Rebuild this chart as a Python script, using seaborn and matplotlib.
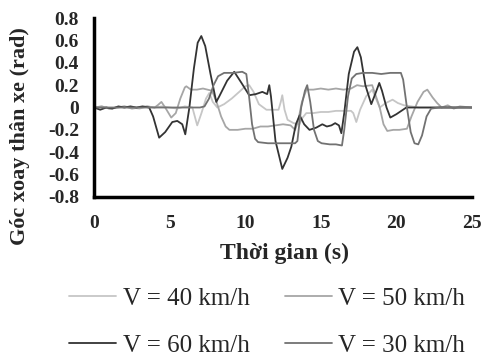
import numpy as np
import pandas as pd
import seaborn as sns
import matplotlib.pyplot as plt

# Góc xoay thân xe theo thời gian, đọc từ đồ thị
t40 = [0, 0.5, 1.0, 1.5, 2.0, 2.5, 3.0, 3.5, 4.0, 4.5, 5.0, 5.5, 6.0, 6.5, 6.82, 7.1, 7.4, 7.62, 7.85,
       8.15, 8.6, 9.1, 9.6, 10.0, 10.26, 10.55, 10.9, 11.4, 11.8, 12.2, 12.35, 12.45, 12.6, 12.8, 13.2,
       13.58, 13.8, 14.04, 14.5, 15.0, 15.5, 16.0, 16.5, 17.0, 17.15, 17.35, 17.6, 18.0, 18.4, 18.65,
       18.9, 19.3, 19.75, 20.1, 20.5, 21.0, 21.5, 22.5, 23.5, 25]
v40 = [0, 0.01, -0.01, 0.0, 0.01, 0.0, -0.01, 0.01, 0.0, 0.01, 0.0, -0.01, 0.01, 0.0, -0.16, -0.05,
       0.08, 0.13, 0.05, 0.0, 0.03, 0.08, 0.14, 0.19, 0.2, 0.14, 0.03, -0.02, -0.02, -0.02, 0.05, 0.11,
       -0.02, -0.11, -0.14, -0.15, -0.09, -0.05, -0.05, -0.04, -0.04, -0.03, -0.03, -0.03, -0.05, -0.13,
       -0.02, 0.1, 0.16, 0.08, 0.0, 0.04, 0.07, 0.04, 0.02, 0.01, 0.0, 0.0, 0.0, 0.0]

t50 = [0, 0.5, 1.0, 1.5, 2.0, 2.5, 3.0, 3.5, 4.0, 4.2, 4.45, 4.7, 5.1, 5.4, 5.7, 6.0, 6.1, 6.4, 6.8,
       7.2, 7.8, 8.1, 8.4, 8.7, 8.95, 9.5, 10.0, 10.5, 11.0, 11.5, 12.0, 12.5, 13.0, 13.3, 13.5, 13.75,
       14.05, 14.5, 15.0, 15.5, 16.0, 16.5, 17.0, 17.4, 17.8, 18.4, 18.65, 18.9, 19.15, 19.4, 19.8, 20.2,
       20.7, 21.0, 21.4, 21.8, 22.05, 22.4, 22.7, 23.0, 23.4, 23.8, 24.2, 25]
v50 = [0, 0.01, -0.01, 0.0, 0.01, -0.01, 0.0, 0.01, 0.0, 0.02, 0.05, 0.0, -0.09, -0.05, 0.08, 0.18,
       0.19, 0.16, 0.16, 0.17, 0.15, 0.05, -0.08, -0.17, -0.2, -0.2, -0.19, -0.19, -0.17, -0.17, -0.16,
       -0.15, -0.16, -0.2, -0.12, 0.05, 0.16, 0.16, 0.17, 0.16, 0.17, 0.16, 0.17, 0.2, 0.19, 0.2, 0.1,
       0.0, -0.15, -0.21, -0.2, -0.2, -0.19, -0.08, 0.05, 0.14, 0.16, 0.09, 0.04, 0.0, 0.02, -0.01,
       0.01, 0.0]

t60 = [0, 0.4, 0.8, 1.2, 1.6, 2.0, 2.4, 2.8, 3.2, 3.64, 3.9, 4.3, 4.7, 5.17, 5.5, 5.83, 6.03, 6.3,
       6.6, 6.85, 7.09, 7.35, 7.7, 8.08, 8.28, 8.8, 9.27, 9.75, 10.26, 10.7, 11.13, 11.45, 11.59, 11.7,
       12.0, 12.45, 12.8, 13.05, 13.35, 13.6, 13.9, 14.25, 14.7, 15.1, 15.4, 15.7, 15.95, 16.2, 16.36,
       16.55, 16.85, 17.2, 17.42, 17.65, 17.95, 18.34, 18.6, 18.87, 19.05, 19.35, 19.6, 20.0, 20.66,
       21.5, 23.0, 25]
v60 = [0, -0.02, 0.0, -0.01, 0.01, 0.0, 0.01, 0.0, 0.01, 0.0, -0.08, -0.27, -0.22, -0.13, -0.12,
       -0.15, -0.24, 0.0, 0.35, 0.58, 0.64, 0.55, 0.3, 0.05, 0.1, 0.24, 0.32, 0.22, 0.11, 0.12, 0.14,
       0.12, 0.2, 0.1, -0.3, -0.55, -0.45, -0.35, -0.15, -0.07, -0.15, -0.2, -0.18, -0.15, -0.17,
       -0.16, -0.14, -0.16, -0.23, -0.05, 0.3, 0.5, 0.54, 0.45, 0.2, 0.03, 0.12, 0.22, 0.15, 0.0,
       -0.09, -0.06, 0.0, 0.0, 0.0, 0.0]

t30 = [0, 1, 2, 3, 4, 5, 6, 7.0, 7.3, 7.6, 7.9, 8.2, 8.6, 9.2, 9.8, 10.07, 10.25, 10.45, 10.65, 10.85,
       11.5, 12.2, 12.9, 13.3, 13.45, 13.7, 13.95, 14.1, 14.3, 14.55, 14.8, 15.05, 15.6, 16.0, 16.4,
       16.55, 16.8, 17.05, 17.35, 17.8, 18.4, 19.0, 19.6, 20.3, 20.45, 20.7, 20.95, 21.2, 21.45, 21.7,
       22.0, 22.3, 22.8, 25]
v30 = [0, 0, 0, 0, 0, 0, 0, 0.0, 0.01, 0.08, 0.2, 0.28, 0.31, 0.31, 0.32, 0.3, 0.1, -0.15, -0.28,
       -0.31, -0.32, -0.32, -0.32, -0.32, -0.3, 0.0, 0.15, 0.2, 0.05, -0.2, -0.3, -0.32, -0.33, -0.33,
       -0.34, -0.2, 0.1, 0.26, 0.3, 0.31, 0.31, 0.3, 0.31, 0.31, 0.25, 0.0, -0.22, -0.32, -0.33, -0.25,
       -0.08, -0.01, 0.0, 0.0]

series = [
    ('V = 40 km/h', t40, v40, '#c6c6c6'),
    ('V = 50 km/h', t50, v50, '#a6a6a6'),
    ('V = 60 km/h', t60, v60, '#333333'),
    ('V = 30 km/h', t30, v30, '#727272'),
]

sns.set_style('white')
plt.rcParams['font.family'] = ['Liberation Serif', 'DejaVu Serif']

fig = plt.figure(figsize=(4.83, 3.56), dpi=100)
ax = fig.add_axes([0.195, 0.447, 0.782, 0.502])

for ten, t, v, mau in series:
    df = pd.DataFrame({'t': t, 'v': v})
    sns.lineplot(data=df, x='t', y='v', ax=ax, color=mau, linewidth=1.3,
                 label=ten, sort=False, estimator=None)

ax.set_xlim(0, 25)
ax.set_ylim(-0.8, 0.8)
ax.set_xticks([0, 5, 10, 15, 20, 25])
yt = [0.8, 0.6, 0.4, 0.2, 0, -0.2, -0.4, -0.6, -0.8]
ax.set_yticks(yt)
ax.set_yticklabels(['0' if y == 0 else f'{y:.1f}' for y in yt])
ax.tick_params(axis='y', length=0, labelsize=14, pad=11)
ax.tick_params(axis='x', length=0, labelsize=14, pad=13)
for lb in ax.get_xticklabels() + ax.get_yticklabels():
    lb.set_fontweight('bold')

ax.set_xlabel('Thời gian (s)', fontsize=17, fontweight='bold')
ax.set_ylabel('Góc xoay thân xe (rad)', fontsize=16, fontweight='bold')
ax.xaxis.set_label_coords(0.505, -0.255)
ax.yaxis.set_label_coords(-0.17, 0.34)

for s in ['top', 'right']:
    ax.spines[s].set_visible(False)
for s in ['left', 'bottom']:
    ax.spines[s].set_linewidth(2.5)
    ax.spines[s].set_color('black')

h, l = ax.get_legend_handles_labels()
ax.get_legend().remove()
order = [0, 2, 1, 3]
fig.legend([h[i] for i in order], [l[i] for i in order], ncol=2, frameon=False,
           loc='lower center', bbox_to_anchor=(0.553, -0.066), fontsize=18,
           handlelength=1.9, handletextpad=0.25, columnspacing=1.4, labelspacing=0.98)

fig.savefig('out.png', dpi=100)
